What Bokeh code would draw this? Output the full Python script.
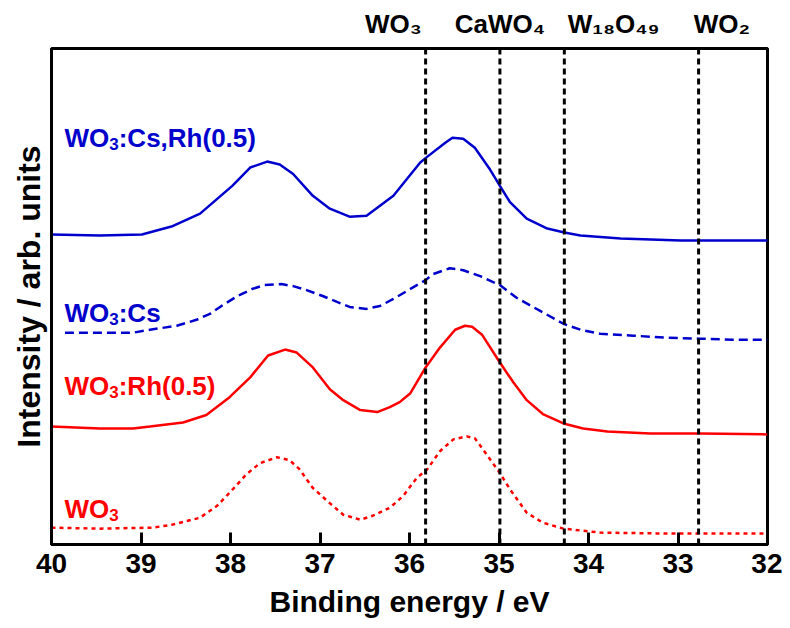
from bokeh.plotting import figure
from bokeh.models import Range1d, FixedTicker, Label, Span, LinearAxis
from bokeh.embed import file_html
from bokeh.resources import INLINE

# ---------------- data (binding energy in eV, intensity in arb. units) ----------------
cs_rh_x = [40.00, 39.46, 38.99, 38.66, 38.34, 37.98, 37.78, 37.59, 37.45, 37.30, 37.08, 36.89,
           36.67, 36.48, 36.18, 35.88, 35.80, 35.60, 35.52, 35.40, 35.27, 35.10, 34.99, 34.88,
           34.69, 34.46, 34.27, 34.09, 33.64, 32.97, 32.00]
cs_rh_y = [62.5, 62.3, 62.5, 64.1, 66.7, 72.3, 76.0, 77.2, 76.6, 74.7, 70.3, 67.7,
           66.1, 66.3, 70.3, 77.0, 78.2, 81.0, 82.0, 81.8, 80.0, 75.6, 72.3, 69.1,
           65.7, 63.7, 62.9, 62.3, 61.7, 61.3, 61.3]

cs_x = [39.85, 39.09, 38.90, 38.60, 38.38, 38.23, 38.10, 37.92, 37.76, 37.62, 37.43, 37.30,
        37.15, 36.97, 36.81, 36.67, 36.48, 36.33, 36.18, 36.03, 35.82, 35.74, 35.55, 35.40,
        35.21, 34.99, 34.80, 34.54, 34.28, 34.09, 33.87, 33.50, 33.12, 32.77, 32.38, 32.00]
cs_y = [42.7, 42.7, 43.3, 44.1, 45.3, 46.5, 48.1, 50.1, 51.5, 52.3, 52.5, 52.1,
        51.3, 50.1, 48.9, 47.9, 47.5, 48.1, 49.5, 51.1, 53.3, 54.5, 55.7, 55.3,
        54.1, 52.3, 49.7, 47.1, 44.5, 43.3, 42.5, 42.1, 41.7, 41.5, 41.3, 41.3]

rh_x = [40.00, 39.46, 39.09, 38.90, 38.53, 38.27, 38.01, 37.78, 37.58, 37.39, 37.26, 37.08,
        36.89, 36.74, 36.55, 36.36, 36.22, 36.11, 35.99, 35.82, 35.66, 35.49, 35.38, 35.30,
        35.19, 34.99, 34.84, 34.69, 34.51, 34.28, 34.06, 33.79, 33.31, 32.75, 32.00]
rh_y = [23.8, 23.4, 23.4, 23.8, 24.6, 26.1, 29.7, 33.7, 38.1, 39.3, 38.7, 35.7,
        31.3, 29.1, 27.1, 26.7, 27.7, 28.7, 30.5, 35.7, 39.7, 43.3, 44.1, 43.9,
        42.3, 36.7, 32.7, 29.1, 26.3, 24.4, 23.4, 22.8, 22.4, 22.4, 22.2]

wo3_x = [40.00, 39.46, 38.87, 38.65, 38.34, 38.15, 37.97, 37.82, 37.67, 37.48, 37.34, 37.23,
         37.08, 36.92, 36.74, 36.55, 36.41, 36.22, 36.07, 35.92, 35.80, 35.66, 35.51, 35.36,
         35.27, 35.18, 34.99, 34.88, 34.69, 34.51, 34.28, 33.87, 33.12, 32.00]
wo3_y = [3.4, 3.2, 3.4, 4.0, 5.4, 7.8, 11.2, 14.2, 16.4, 17.6, 17.0, 15.2,
         11.4, 8.8, 6.0, 5.0, 5.8, 7.4, 9.8, 13.4, 15.2, 18.8, 21.2, 21.8,
         21.4, 19.2, 14.4, 11.2, 6.4, 4.4, 3.2, 2.4, 2.2, 2.2]

# reference binding energies (eV) and their labels
ref_energies = [35.82, 34.99, 34.27, 32.77]
ref_labels = ["WO\u2083", "CaWO\u2084", "W\u2081\u2088O\u2084\u2089", "WO\u2082"]
ref_label_centers = [36.18, 34.99, 33.72, 32.51]

curve_labels = [[("WO", False), ("3", True), (":Cs,Rh(0.5)", False)],
                [("WO", False), ("3", True), (":Cs", False)],
                [("WO", False), ("3", True), (":Rh(0.5)", False)],
                [("WO", False), ("3", True)]]
curve_label_y = [81.9, 46.6, 32.0, 7.2]
curve_colors = ["#0000cc", "#0000cc", "#ff0000", "#ff0000"]

x_ticks = [40, 39, 38, 37, 36, 35, 34, 33, 32]

# ---------------- figure ----------------
FONT = "Liberation Sans"
p = figure(width=782, height=620, output_backend="svg", toolbar_location=None,
           x_range=Range1d(40, 32), y_range=Range1d(0, 100),
           min_border_left=51, min_border_right=15, min_border_top=48, min_border_bottom=71)
p.xgrid.visible = False
p.ygrid.visible = False
p.outline_line_color = "black"
p.outline_line_width = 3
p.background_fill_color = "white"
p.border_fill_color = "white"

xa = p.xaxis[0]
xa.ticker = FixedTicker(ticks=x_ticks, minor_ticks=[])
xa.major_tick_in = 12
xa.major_tick_out = 0
xa.minor_tick_line_color = None
xa.major_tick_line_width = 3
xa.axis_line_width = 3
xa.major_label_text_font = FONT
xa.major_label_text_font_style = "bold"
xa.major_label_text_font_size = "28px"
xa.major_label_text_color = "black"
xa.major_label_standoff = 9
xa.axis_label = "Binding energy / eV"
xa.axis_label_text_font = FONT
xa.axis_label_text_font_style = "bold"
xa.axis_label_text_font_size = "30px"
xa.axis_label_text_color = "black"
xa.axis_label_standoff = 9

ya = p.yaxis[0]
ya.ticker = FixedTicker(ticks=[], minor_ticks=[])
ya.major_tick_in = 0
ya.major_tick_out = 0
ya.minor_tick_line_color = None
ya.axis_line_width = 3
ya.axis_label = "Intensity / arb. units"
ya.axis_label_text_font = FONT
ya.axis_label_text_font_style = "bold"
ya.axis_label_text_font_size = "32px"
ya.axis_label_text_color = "black"
ya.axis_label_standoff = 5

# labels of the reference compounds, above the frame
top = LinearAxis(ticker=FixedTicker(ticks=ref_label_centers, minor_ticks=[]),
                 major_label_overrides={c: t for c, t in zip(ref_label_centers, ref_labels)},
                 axis_line_color=None, major_tick_line_color=None, minor_tick_line_color=None,
                 major_tick_in=0, major_tick_out=0, major_label_standoff=10,
                 major_label_text_font=FONT, major_label_text_font_style="bold",
                 major_label_text_font_size="26px", major_label_text_color="black")
p.add_layout(top, "above")

# reference lines
for e in ref_energies:
    p.add_layout(Span(location=e, dimension="height", line_color="black",
                      line_width=3, line_dash="6 4"))

# spectra
p.line(cs_rh_x, cs_rh_y, line_color="#0000cc", line_width=2.5)
p.line(cs_x, cs_y, line_color="#0000cc", line_width=2.5, line_dash="9 5")
p.line(rh_x, rh_y, line_color="#ff0000", line_width=2.5)
p.line(wo3_x, wo3_y, line_color="#ff0000", line_width=2.5, line_dash="4 4")

# Arial/Liberation Sans Bold advance widths (em)
W = {"W": .944, "O": .778, "C": .722, "a": .556, ":": .333, ",": .278, "s": .556,
     "R": .722, "h": .611, "(": .333, ")": .333, ".": .278}
for d in "0123456789":
    W[d] = .556


def text_width(t, fs):
    return sum(W.get(c, .6) for c in t) * fs


def add_pieces(x, y, pieces, size, sub_size, sub_drop, color):
    off = 0.0
    for txt, sub in pieces:
        fs = sub_size if sub else size
        p.add_layout(Label(x=x, y=y, x_offset=off, y_offset=(-sub_drop if sub else 0),
                           text=txt, text_font=FONT, text_font_style="bold",
                           text_font_size=f"{fs}px", text_color=color,
                           text_align="left", text_baseline="alphabetic"))
        off += text_width(txt, fs)


for pieces, y, c in zip(curve_labels, curve_label_y, curve_colors):
    add_pieces(39.855, y, pieces, 26, 17, 6, c)

open("out.html", "w").write(file_html(p, INLINE))
